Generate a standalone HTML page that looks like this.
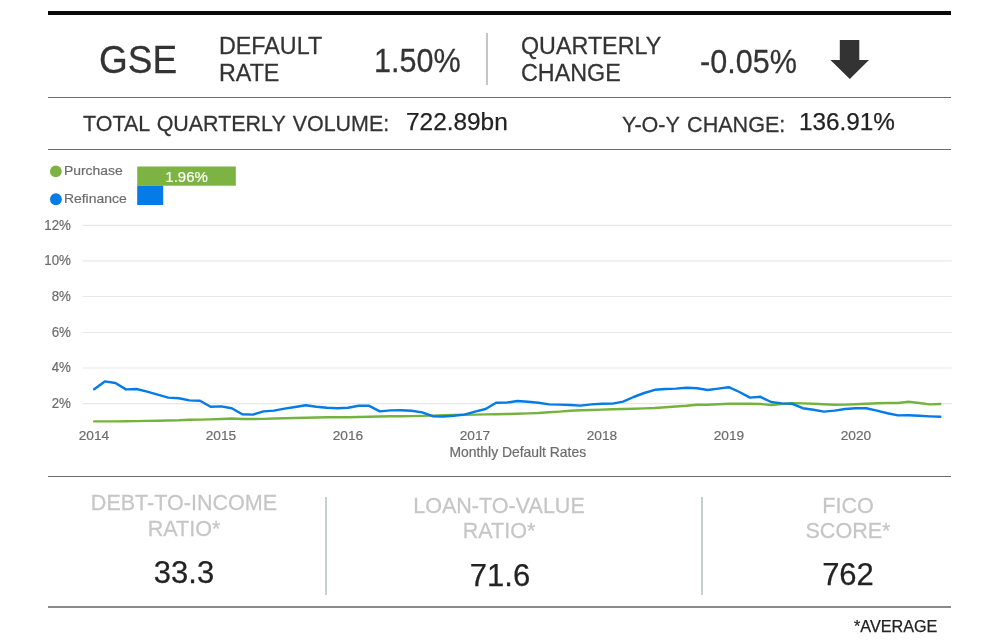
<!DOCTYPE html>
<html lang="en">
<head>
<meta charset="utf-8">
<title>GSE Default Rate</title>
<style>
html,body{margin:0;padding:0;background:#fff;}
body{width:1000px;height:643px;position:relative;overflow:hidden;font-family:"Liberation Sans",Arial,sans-serif;color:#333;}
.t{position:absolute;white-space:nowrap;line-height:1;will-change:transform;-webkit-text-stroke:0.25px currentColor;}
.hl{position:absolute;left:48px;width:903px;}
.vl{position:absolute;}
svg{position:absolute;left:0;top:0;}
svg text{font-family:"Liberation Sans",Arial,sans-serif;}
.ax{font-size:14px;fill:#6c6c6c;stroke:#6c6c6c;stroke-width:0.2px;}
.bar{font-size:15px;fill:#fff;stroke:#fff;stroke-width:0.2px;}
.c{text-align:center;transform:translateX(-50%);}
.lab.c{transform:translateX(-50%) scaleY(1.035);transform-origin:0 0;}
.lab{color:#c6c6c6;font-size:21.55px;}
.val{color:#222;font-size:31px;}
</style>
</head>
<body>
<div class="hl" style="top:11px;height:4px;background:#0a0a0a;"></div>
<div class="hl" style="top:96.5px;height:1.3px;background:#6e6e6e;"></div>
<div class="hl" style="top:148.8px;height:1.3px;background:#6e6e6e;"></div>
<div class="hl" style="top:475.7px;height:1.5px;background:#6c6c6c;"></div>
<div class="hl" style="top:605.8px;height:1.8px;background:#8a8a8a;"></div>

<div class="t" id="gse" style="left:98.7px;top:40.3px;font-size:37px;transform:scaleY(1.07);transform-origin:0 0;">GSE</div>
<div class="t" id="def" style="left:219px;top:33.4px;font-size:23.3px;line-height:25.5px;transform:scaleY(1.05);transform-origin:0 0;">DEFAULT<br>RATE</div>
<div class="t" id="defv" style="left:374.2px;top:44.25px;font-size:30.6px;transform:scaleY(1.085);transform-origin:0 0;">1.50%</div>
<div class="vl" style="left:486.2px;top:32.7px;width:2.1px;height:52.3px;background:#c6c6c6;"></div>
<div class="t" id="qtr" style="left:520.6px;top:33.3px;font-size:23.3px;line-height:25.5px;transform:scaleY(1.05);transform-origin:0 0;">QUARTERLY<br>CHANGE</div>
<div class="t" id="qtrv" style="left:699.8px;top:44.6px;font-size:30.6px;transform:scaleY(1.085);transform-origin:0 0;">-0.05%</div>

<div class="t" id="tqv" style="transform:scaleY(1.04);transform-origin:0 0;left:82.5px;top:112.9px;font-size:21.45px;word-spacing:1.4px;">TOTAL QUARTERLY VOLUME:</div>
<div class="t" id="tqvv" style="left:405.6px;top:110.3px;font-size:24.4px;color:#222;">722.89bn</div>
<div class="t" id="yoy" style="transform:scaleY(1.04);transform-origin:0 0;left:621.8px;top:112.9px;font-size:21.55px;word-spacing:1.6px;">Y-O-Y CHANGE:</div>
<div class="t" id="yoyv" style="left:798.5px;top:110.3px;font-size:24.3px;color:#222;">136.91%</div>

<svg width="1000" height="643" viewBox="0 0 1000 643">
<line x1="82.6" x2="951.8" y1="225.3" y2="225.3" stroke="#e8e8e8" stroke-width="1.2"/>
<line x1="82.6" x2="951.8" y1="260.9" y2="260.9" stroke="#e8e8e8" stroke-width="1.2"/>
<line x1="82.6" x2="951.8" y1="296.5" y2="296.5" stroke="#e8e8e8" stroke-width="1.2"/>
<line x1="82.6" x2="951.8" y1="332.5" y2="332.5" stroke="#e8e8e8" stroke-width="1.2"/>
<line x1="82.6" x2="951.8" y1="368.0" y2="368.0" stroke="#e8e8e8" stroke-width="1.2"/>
<line x1="82.6" x2="951.8" y1="403.7" y2="403.7" stroke="#e8e8e8" stroke-width="1.2"/>
<text transform="translate(70.9,229.75) scale(1,1.045)" text-anchor="end" class="ax" style="font-size:13.3px">12%</text>
<text transform="translate(70.9,265.35) scale(1,1.045)" text-anchor="end" class="ax" style="font-size:13.3px">10%</text>
<text transform="translate(70.9,300.95) scale(1,1.045)" text-anchor="end" class="ax" style="font-size:13.3px">8%</text>
<text transform="translate(70.9,336.95) scale(1,1.045)" text-anchor="end" class="ax" style="font-size:13.3px">6%</text>
<text transform="translate(70.9,372.45) scale(1,1.045)" text-anchor="end" class="ax" style="font-size:13.3px">4%</text>
<text transform="translate(70.9,408.15) scale(1,1.045)" text-anchor="end" class="ax" style="font-size:13.3px">2%</text>
<text x="93.9" y="439.8" text-anchor="middle" class="ax" style="font-size:13.7px">2014</text>
<text x="220.9" y="439.8" text-anchor="middle" class="ax" style="font-size:13.7px">2015</text>
<text x="347.9" y="439.8" text-anchor="middle" class="ax" style="font-size:13.7px">2016</text>
<text x="474.9" y="439.8" text-anchor="middle" class="ax" style="font-size:13.7px">2017</text>
<text x="601.9" y="439.8" text-anchor="middle" class="ax" style="font-size:13.7px">2018</text>
<text x="728.9" y="439.8" text-anchor="middle" class="ax" style="font-size:13.7px">2019</text>
<text x="855.9" y="439.8" text-anchor="middle" class="ax" style="font-size:13.7px">2020</text>
<text x="517.8" y="457" text-anchor="middle" class="ax" style="font-size:13.9px">Monthly Default Rates</text>
<polyline points="94.2,421.4 104.8,421.4 115.4,421.4 126.0,421.3 136.6,421.1 147.1,420.9 157.7,420.7 168.3,420.5 178.9,420.3 189.4,419.8 200.0,419.6 210.6,419.4 221.2,419.0 231.7,418.5 242.3,419.0 252.9,419.0 263.5,418.9 274.0,418.5 284.6,418.3 295.2,418.0 305.8,417.8 316.3,417.5 326.9,417.3 337.5,417.2 348.1,417.2 358.7,417.0 369.2,416.7 379.8,416.5 390.4,416.3 401.0,416.2 411.5,416.1 422.1,415.9 432.7,415.6 443.3,415.2 453.8,414.9 464.4,414.7 475.0,414.6 485.6,414.4 496.1,414.2 506.7,414.0 517.3,413.8 527.9,413.4 538.4,413.0 549.0,412.3 559.6,411.6 570.2,410.7 580.7,410.3 591.3,410.0 601.9,409.6 612.5,409.3 623.1,409.0 633.6,408.7 644.2,408.4 654.8,408.0 665.4,407.3 675.9,406.5 686.5,405.8 697.1,404.8 707.7,404.8 718.2,404.3 728.8,403.8 739.4,403.7 750.0,403.7 760.5,404.0 771.1,405.0 781.7,404.0 792.3,403.2 802.8,403.4 813.4,403.8 824.0,404.2 834.6,404.8 845.1,404.6 855.7,404.2 866.3,403.8 876.9,403.2 887.5,403.0 898.0,403.0 908.6,401.8 919.2,403.0 929.8,404.4 940.3,404.0" fill="none" stroke="#76b33e" stroke-width="2.4" stroke-linejoin="round" stroke-linecap="round"/>
<polyline points="94.2,389.2 104.8,381.4 115.4,383.0 126.0,389.4 136.6,389.0 147.1,391.6 157.7,394.6 168.3,397.6 178.9,398.2 189.4,400.4 200.0,400.8 210.6,406.8 221.2,406.4 231.7,408.2 242.3,414.2 252.9,414.6 263.5,411.4 274.0,410.6 284.6,408.6 295.2,407.0 305.8,405.2 316.3,406.8 326.9,407.8 337.5,408.2 348.1,407.8 358.7,405.8 369.2,405.8 379.8,411.4 390.4,410.4 401.0,410.2 411.5,410.8 422.1,412.4 432.7,416.2 443.3,416.5 453.8,415.7 464.4,414.6 475.0,411.6 485.6,409.0 496.1,402.8 506.7,402.6 517.3,401.0 527.9,401.8 538.4,402.8 549.0,404.4 559.6,404.6 570.2,405.0 580.7,405.6 591.3,404.4 601.9,403.8 612.5,403.6 623.1,401.6 633.6,397.0 644.2,393.0 654.8,389.8 665.4,389.0 675.9,388.6 686.5,387.8 697.1,388.2 707.7,390.0 718.2,388.6 728.8,387.2 739.4,392.0 750.0,397.6 760.5,396.8 771.1,402.0 781.7,403.4 792.3,403.8 802.8,408.2 813.4,409.8 824.0,411.6 834.6,410.6 845.1,409.0 855.7,408.2 866.3,408.2 876.9,410.6 887.5,413.2 898.0,415.4 908.6,415.2 919.2,415.8 929.8,416.4 940.3,416.8" fill="none" stroke="#047be6" stroke-width="2.45" stroke-linejoin="round" stroke-linecap="round"/>
<circle cx="55.85" cy="171.45" r="5.9" fill="#7cb342"/>
<circle cx="55.9" cy="199.25" r="5.9" fill="#047be6"/>
<text transform="translate(63.9,175.4) scale(1,0.95)" class="ax" style="font-size:13.95px">Purchase</text>
<text transform="translate(63.9,202.9) scale(1,0.95)" class="ax" style="font-size:13.95px">Refinance</text>
<rect x="137.2" y="166.5" width="98.6" height="19.2" fill="#7cb342"/>
<rect x="137.2" y="185.7" width="26" height="19.3" fill="#047be6"/>
<text x="186.6" y="182.1" text-anchor="middle" class="bar">1.96%</text>
<polygon points="839.8,40 859.3,40 859.3,60 869,60 849.8,79 830.4,60 839.8,60" fill="#333"/>
</svg>

<div class="t c lab" id="dti" style="left:183.9px;top:490px;line-height:24.5px;">DEBT-TO-INCOME<br>RATIO*</div>
<div class="t c val" id="dtiv" style="left:183.6px;top:556.9px;">33.3</div>
<div class="vl" style="left:325.1px;top:496.5px;width:2.4px;height:98.3px;background:#c9cfcf;"></div>
<div class="t c lab" id="ltv" style="left:499.3px;top:492.5px;line-height:24.1px;">LOAN-TO-VALUE<br>RATIO*</div>
<div class="t c val" id="ltvv" style="left:499.8px;top:560px;">71.6</div>
<div class="vl" style="left:700.5px;top:496.5px;width:2.4px;height:98.3px;background:#c9cfcf;"></div>
<div class="t c lab" id="fico" style="left:848px;top:492.5px;line-height:24.1px;">FICO<br>SCORE*</div>
<div class="t c val" id="ficov" style="left:848px;top:559.3px;">762</div>
<div class="t" id="avg" style="left:853.5px;top:618.4px;font-size:16.2px;color:#222;">*AVERAGE</div>
</body>
</html>
